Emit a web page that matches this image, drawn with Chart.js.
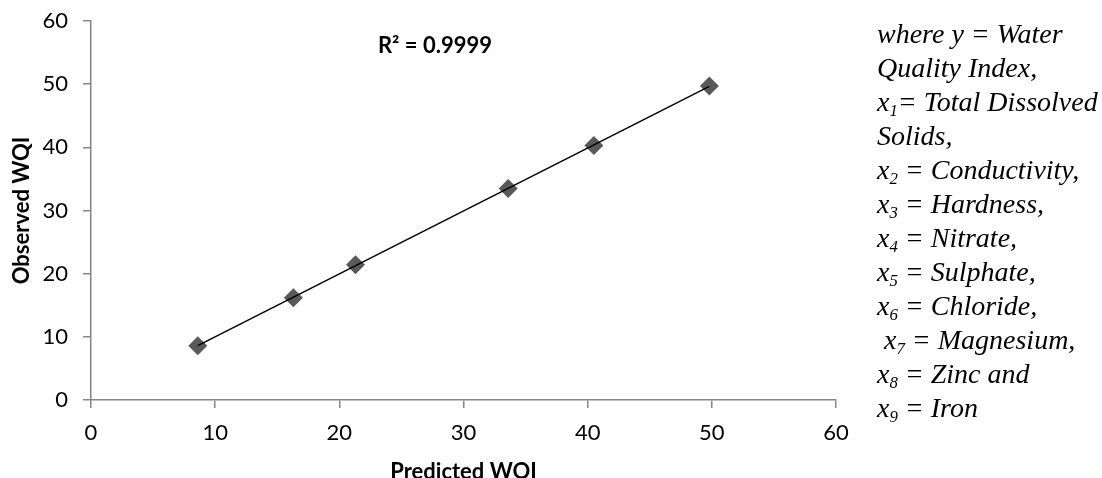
<!DOCTYPE html>
<html>
<head>
<meta charset="utf-8">
<script src="https://cdn.jsdelivr.net/npm/chart.js@4/dist/chart.umd.min.js"></script>
<style>
    body { margin: 0; background: #fff; }
    #wrap { position: relative; width: 1102px; height: 478px; overflow: hidden; }
    #notes {
        position: absolute;
        left: 877px;
        top: 17px;
        font-family: "Liberation Serif", "Times New Roman", serif;
        font-style: italic;
        font-size: 28px;
        line-height: 34px;
        color: #000;
        white-space: nowrap;
    }
    #notes sub { font-size: 0.6em; line-height: 0; vertical-align: -0.3em; }
</style>
</head>
<body>
<div id="wrap">
    <canvas id="chart" width="1102" height="478"></canvas>
    <div id="notes">
        <div>where y = Water</div>
        <div>Quality Index,</div>
        <div>x<sub>1</sub>= Total Dissolved</div>
        <div>Solids,</div>
        <div>x<sub>2</sub> = Conductivity,</div>
        <div>x<sub>3</sub> = Hardness,</div>
        <div>x<sub>4</sub> = Nitrate,</div>
        <div>x<sub>5</sub> = Sulphate,</div>
        <div>x<sub>6</sub> = Chloride,</div>
        <div>&nbsp;x<sub>7</sub> = Magnesium,</div>
        <div>x<sub>8</sub> = Zinc and</div>
        <div>x<sub>9</sub> = Iron</div>
    </div>
</div>
<script>
// Data
const predictedWQI = [8.6, 16.3, 21.3, 33.6, 40.5, 49.8];
const observedWQI = [8.6, 16.2, 21.4, 33.5, 40.3, 49.7];
const rSquaredLabel = 'R² = 0.9999';
const axisTicks = [0, 10, 20, 30, 40, 50, 60];

const AXIS_GREY = '#868686';
const MARKER_GREY = '#595959';
const FONT = 'Lato, "Open Sans", sans-serif';

// Least squares trendline over the observed range
function linearFit(xs, ys) {
    const n = xs.length;
    const mx = xs.reduce((a, b) => a + b, 0) / n;
    const my = ys.reduce((a, b) => a + b, 0) / n;
    let sxy = 0, sxx = 0;
    for (let i = 0; i < n; i++) {
        sxy += (xs[i] - mx) * (ys[i] - my);
        sxx += (xs[i] - mx) * (xs[i] - mx);
    }
    const slope = sxy / sxx;
    return { slope: slope, intercept: my - slope * mx };
}

const fit = linearFit(predictedWQI, observedWQI);
const xMin = Math.min(...predictedWQI);
const xMax = Math.max(...predictedWQI);
const trendPoints = [xMin, xMax].map(x => ({ x: x, y: fit.slope * x + fit.intercept }));
const scatterPoints = predictedWQI.map((x, i) => ({ x: x, y: observedWQI[i] }));

// R² label placed in data space, like the spreadsheet's trendline label
const rSquaredPlugin = {
    id: 'rSquared',
    afterDatasetsDraw(chart) {
        const { ctx, scales } = chart;
        ctx.save();
        ctx.font = 'bold 22px ' + FONT;
        ctx.fillStyle = '#000';
        ctx.textAlign = 'center';
        ctx.textBaseline = 'middle';
        ctx.fillText(rSquaredLabel, scales.x.getPixelForValue(27.7), scales.y.getPixelForValue(56.0));
        ctx.restore();
    }
};

new Chart(document.getElementById('chart'), {
    type: 'scatter',
    data: {
        datasets: [
            {
                label: 'Linear trend',
                type: 'line',
                data: trendPoints,
                borderColor: '#000',
                borderWidth: 1.5,
                pointRadius: 0,
                fill: false,
                order: 0
            },
            {
                label: 'Observed WQI',
                data: scatterPoints,
                pointStyle: 'rectRot',
                pointRadius: 9.5,
                pointBackgroundColor: MARKER_GREY,
                pointBorderWidth: 0,
                order: 1
            }
        ]
    },
    options: {
        responsive: false,
        animation: false,
        layout: { padding: { top: 21, right: 266, left: 0, bottom: 0 } },
        plugins: {
            legend: { display: false },
            tooltip: { enabled: false }
        },
        scales: {
            x: {
                type: 'linear',
                min: 0,
                max: 60,
                afterBuildTicks: scale => { scale.ticks = axisTicks.map(v => ({ value: v })); },
                afterFit: scale => { scale.height = 78; },
                border: { color: AXIS_GREY, width: 1.5 },
                grid: { drawOnChartArea: false, color: AXIS_GREY, tickLength: 8, lineWidth: 1.5 },
                ticks: { color: '#000', font: { family: FONT, size: 22 }, padding: 12, maxRotation: 0 },
                title: {
                    display: true,
                    text: 'Predicted WQI',
                    color: '#000',
                    font: { family: FONT, size: 22, weight: 'bold', lineHeight: 0.55 },
                    padding: { bottom: 0, top: 0 }
                }
            },
            y: {
                type: 'linear',
                min: 0,
                max: 60,
                afterBuildTicks: scale => { scale.ticks = axisTicks.map(v => ({ value: v })); },
                afterFit: scale => {
                    scale.width = 91;
                    // the label gap would otherwise push the plot top down
                    scale.paddingTop = 0;
                    scale.paddingBottom = 0;
                },
                border: { color: AXIS_GREY, width: 1.5 },
                grid: { drawOnChartArea: false, color: AXIS_GREY, tickLength: 8, lineWidth: 1.5 },
                ticks: { color: '#000', font: { family: FONT, size: 22 }, padding: 15 },
                title: {
                    display: true,
                    text: 'Observed WQI',
                    color: '#000',
                    font: { family: FONT, size: 22, weight: 'bold', lineHeight: 0.7 },
                    padding: { top: 14, bottom: 0 }
                }
            }
        }
    },
    plugins: [rSquaredPlugin]
});
</script>
</body>
</html>
